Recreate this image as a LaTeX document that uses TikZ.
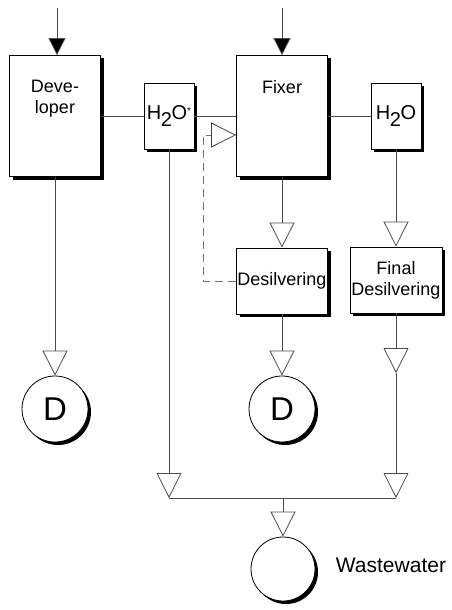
\documentclass[tikz,border=0pt]{standalone}
\usepackage{fontspec}
\setmainfont{Liberation Sans}
\usetikzlibrary{arrows.meta, shadows}

\newcommand{\hwater}{{\fontsize{20}{20}\selectfont H\kern-0.5pt\raisebox{-7pt}{2}\kern-0.5pt O}}

\begin{document}
\begin{tikzpicture}[
  x=1pt, y=-1pt,
  every node/.style={font=\fontsize{18}{21}\selectfont},
  unit/.style={
    draw, fill=white, line width=0.8pt, inner sep=0pt, align=center,
    drop shadow={shadow xshift=3pt, shadow yshift=-3pt, fill=black, opacity=1}
  },
  bath/.style={unit, minimum width=91pt, minimum height=121pt,
    label={[anchor=north, yshift=-25pt, inner sep=0pt, align=center]north:#1}},
  tank/.style={unit, circle, minimum size=66pt, font=\fontsize{33}{33}\selectfont},
  pipe/.style={draw=black!70, line width=0.8pt},
  feed/.style={pipe, -{Triangle[length=17pt, width=17pt, fill=black]}},
  flow/.style={pipe, -{Triangle[open, length=25pt, width=25pt]}},
  ret/.style={pipe, draw=black!55, dash pattern=on 8pt off 5pt,
    -{Triangle[open, length=25pt, width=25pt, color=black!75]}},
]
\useasboundingbox (0,0) rectangle (451,610);

%% ── Baths ─────────────────────────────────────────────────────────────────
\node[bath={Deve-\\loper}] (dev) at (55,116) {};
\node[unit, minimum width=50pt, minimum height=66pt] (wA) at (169,116)
  {\hwater\raisebox{5pt}{\fontsize{10}{10}\selectfont*}};
\node[bath=Fixer] (fix) at (282,116) {};
\node[unit, minimum width=50pt, minimum height=66pt] (wB) at (396,116) {\hwater};

%% ── Desilvering units ─────────────────────────────────────────────────────
\node[unit, minimum width=91pt, minimum height=66pt] (des)  at (282,281) {Desilvering};
\node[unit, minimum width=92pt, minimum height=66pt] (fdes) at (396,280) {Final\\Desilvering};

%% ── Drains ────────────────────────────────────────────────────────────────
\node[tank] (d1) at (55,409)  {D};
\node[tank] (d2) at (282,409) {D};
\node[tank, minimum size=64pt] (ww) at (283,569) {};
\node[anchor=west, font=\fontsize{21}{21}\selectfont]
  (wwl) at ([xshift=17pt, yshift=4pt]ww.east) {Wastewater};

%% ── Feeds ─────────────────────────────────────────────────────────────────
\coordinate (in1) at (57,8);
\coordinate (in2) at (282,8);
\draw[feed] (in1) -- (in1 |- dev.north);
\draw[feed] (in2) -- (in2 |- fix.north);

%% ── Rinse line ────────────────────────────────────────────────────────────
\draw[pipe] (dev) -- (wA);
\draw[pipe] (wA) -- (fix);
\draw[pipe] (fix) -- (wB);

%% ── Outflows ──────────────────────────────────────────────────────────────
\coordinate (bus)  at (283,498);
\coordinate (trap) at (396,373);
\coordinate (kink) at (203,135);
\draw[flow] (dev.south) -- (d1.north);
\draw[flow] (fix.south) -- (des.north);
\draw[flow] (des.south) -- (d2.north);
\draw[flow] (wB.south) -- (fdes.north);
\draw[flow] (fdes.south) -- (trap);
\draw[flow] (trap) -- (fdes.south |- bus);
\draw[flow] (wA.south) -- (wA.south |- bus);
\draw[pipe] (wA.south |- bus) -- (fdes.south |- bus);
\draw[flow] (bus) -- (ww.north);

%% ── Return from desilvering ───────────────────────────────────────────────
\draw[ret] (des.west) -| (kink) -- (kink -| fix.west);

\end{tikzpicture}
\end{document}
